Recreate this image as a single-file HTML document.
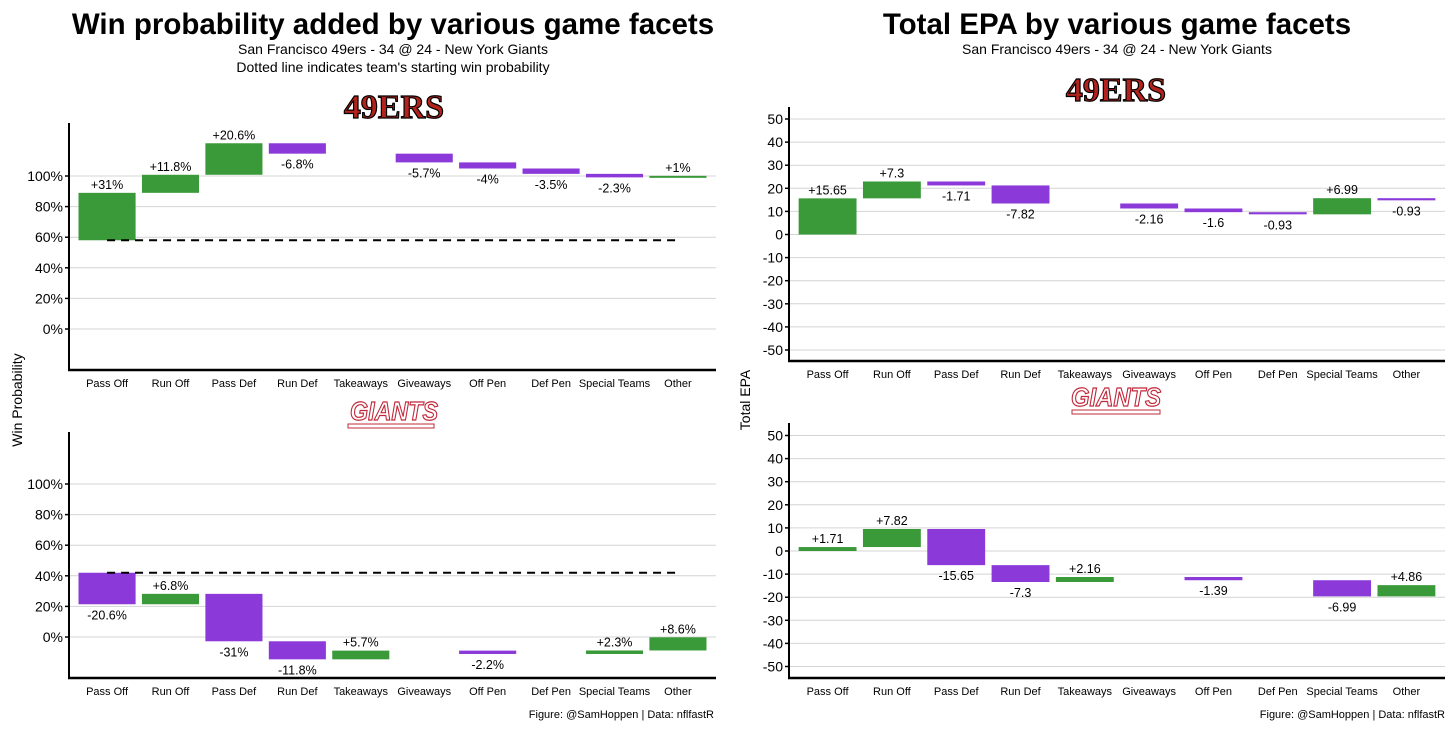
<!DOCTYPE html>
<html><head><meta charset="utf-8"><style>
body{margin:0;background:#fff;}
svg text{font-family:"Liberation Sans",sans-serif;}
</style></head><body>
<svg id="chart" width="1456" height="728" xmlns="http://www.w3.org/2000/svg">
<text x="393" y="34" text-anchor="middle" font-size="29.5" font-weight="bold">Win probability added by various game facets</text>
<text x="393" y="54" text-anchor="middle" font-size="14">San Francisco 49ers - 34 @ 24 - New York Giants</text>
<text x="393" y="72" text-anchor="middle" font-size="14">Dotted line indicates team's starting win probability</text>
<text x="1117" y="34" text-anchor="middle" font-size="29.5" font-weight="bold">Total EPA by various game facets</text>
<text x="1117" y="54" text-anchor="middle" font-size="14">San Francisco 49ers - 34 @ 24 - New York Giants</text>
<text x="394" y="118" text-anchor="middle" font-size="34" font-weight="bold" fill="#b3221c" stroke="#000" stroke-width="1.2" style="font-family:'Liberation Serif',serif">49ERS</text>
<text x="1116" y="101" text-anchor="middle" font-size="34" font-weight="bold" fill="#b3221c" stroke="#000" stroke-width="1.2" style="font-family:'Liberation Serif',serif">49ERS</text>
<g>
<text x="394" y="420" text-anchor="middle" font-size="26" font-weight="bold" font-style="italic" fill="#fff" stroke="#c0283a" stroke-width="1.2" textLength="88" lengthAdjust="spacingAndGlyphs">GIANTS</text>
<rect x="348" y="424" width="86" height="4" fill="none" stroke="#c0283a" stroke-width="1"/></g>
<g>
<text x="1116" y="406" text-anchor="middle" font-size="26" font-weight="bold" font-style="italic" fill="#fff" stroke="#c0283a" stroke-width="1.2" textLength="90" lengthAdjust="spacingAndGlyphs">GIANTS</text>
<rect x="1072" y="410" width="88" height="4" fill="none" stroke="#c0283a" stroke-width="1"/></g>
<text transform="translate(22,400) rotate(-90)" text-anchor="middle" font-size="14">Win Probability</text>
<text transform="translate(750,400) rotate(-90)" text-anchor="middle" font-size="14">Total EPA</text>
<text x="714" y="718" text-anchor="end" font-size="11">Figure: @SamHoppen | Data: nflfastR</text>
<text x="1445" y="718" text-anchor="end" font-size="11">Figure: @SamHoppen | Data: nflfastR</text>
</svg>
<script>
const categories=["Pass Off","Run Off","Pass Def","Run Def","Takeaways","Giveaways","Off Pen","Def Pen","Special Teams","Other"];
const wpNinersStart=58;
const wpNiners=[31,11.8,20.6,-6.8,0,-5.7,-4,-3.5,-2.3,1];
const wpGiantsStart=42;
const wpGiants=[-20.6,6.8,-31,-11.8,5.7,0,-2.2,0,2.3,8.6];
const epaNiners=[15.65,7.3,-1.71,-7.82,0,-2.16,-1.6,-0.93,6.99,-0.93];
const epaGiants=[1.71,7.82,-15.65,-7.3,2.16,0,-1.39,0,-6.99,4.86];
const wpTicks=[0,20,40,60,80,100];
const epaTicks=[-50,-40,-30,-20,-10,0,10,20,30,40,50];
const NS="http://www.w3.org/2000/svg";
const svg=document.getElementById('chart');
const GREEN="#3a9a3a",PURPLE="#8b3ad9";
function mk(tag,attrs,parent){const e=document.createElementNS(NS,tag);for(const k in attrs)e.setAttribute(k,attrs[k]);(parent||svg).appendChild(e);return e;}
function panel(opts){
  const {x0,x1,top,bottom,zeroY,ppu,ticks,fmt,start,vals,name,dashed,labFmt}=opts;
  const g=mk('g',{});
  
  
  const y=v=>zeroY-v*ppu;
  const step=(x1-x0)/(categories.length-1+1.2);
  const cx=i=>x0+step*(i+0.6);
  ticks.forEach(t=>{
    const l=mk('line',{x1:x0,x2:x1,y1:y(t),y2:y(t),stroke:'#d4d4d4','stroke-width':1},g);
    
    
    mk('line',{x1:x0-4,x2:x0,y1:y(t),y2:y(t),stroke:'#000','stroke-width':1.5},g);
    const tx=mk('text',{x:x0-6,y:y(t)+5,'text-anchor':'end','font-size':14},g);
    tx.textContent=fmt(t);
    
    
  });
  let cum=start;
  vals.forEach((v,i)=>{
    const a=cum,b=cum+v;cum=b;
    const c=cx(i),w=step*0.9;
    if(v!==0){
      const r=mk('rect',{x:c-w/2,y:y(Math.max(a,b)),width:w,height:Math.max(2,Math.abs(y(a)-y(b))),fill:v>0?GREEN:PURPLE},g);
      
      
      const lt=mk('text',{x:c,y:v>0?y(b)-4:y(b)+15,'text-anchor':'middle','font-size':12.5},g);
      lt.textContent=(v>0?'+':'')+labFmt(v);
      
      
    }
    const xl=mk('text',{x:c,y:bottom+17,'text-anchor':'middle','font-size':11},g);
    xl.textContent=categories[i];
    
    
  });
  if(dashed!==undefined){
    const d=mk('line',{x1:cx(0),x2:cx(categories.length-1),y1:y(dashed),y2:y(dashed),stroke:'#000','stroke-width':2,'stroke-dasharray':'8,6'},g);
    
    
  }
  mk('line',{x1:x0,x2:x0,y1:top,y2:bottom,stroke:'#000','stroke-width':2},g);
  mk('line',{x1:x0-1,x2:x1,y1:bottom,y2:bottom,stroke:'#000','stroke-width':2.5},g);
}
const pct=t=>t+'%';
panel({name:'wp-niners-panel',x0:69,x1:716,top:123,bottom:370,zeroY:329,ppu:1.53,ticks:wpTicks,fmt:pct,start:wpNinersStart,vals:wpNiners,dashed:wpNinersStart,labFmt:v=>v+'%'});
panel({name:'wp-giants-panel',x0:69,x1:716,top:432,bottom:678,zeroY:637,ppu:1.53,ticks:wpTicks,fmt:pct,start:wpGiantsStart,vals:wpGiants,dashed:wpGiantsStart,labFmt:v=>v+'%'});
panel({name:'epa-niners-panel',x0:789,x1:1445,top:107,bottom:361,zeroY:234.5,ppu:2.31,ticks:epaTicks,fmt:t=>String(t),start:0,vals:epaNiners,labFmt:v=>String(v)});
panel({name:'epa-giants-panel',x0:789,x1:1445,top:423,bottom:678,zeroY:551,ppu:2.31,ticks:epaTicks,fmt:t=>String(t),start:0,vals:epaGiants,labFmt:v=>String(v)});
</script>
</body></html>
